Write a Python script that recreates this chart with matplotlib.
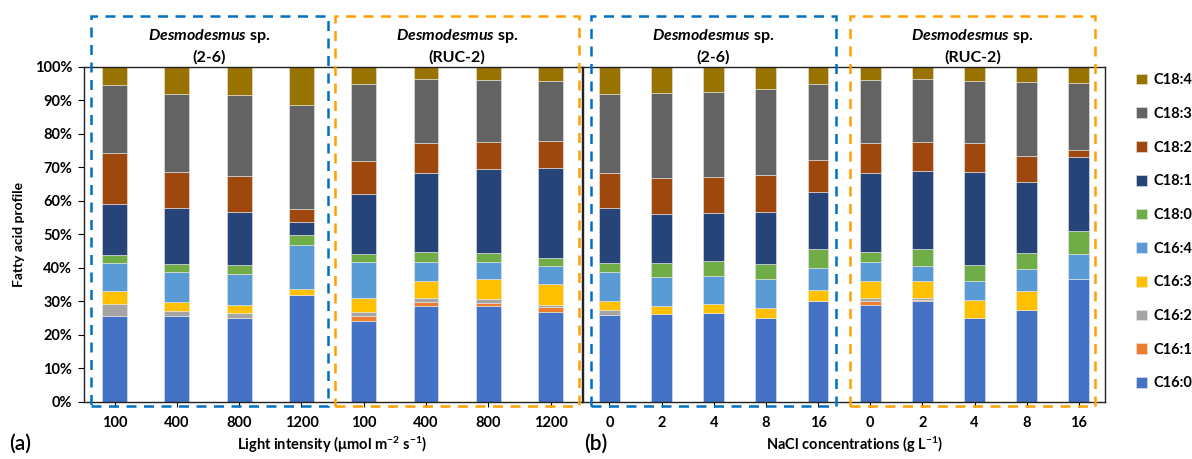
import numpy as np
import matplotlib.pyplot as plt
from matplotlib.patches import Rectangle

plt.rcParams['font.family'] = ['Lato', 'DejaVu Sans']
plt.rcParams['font.weight'] = 'bold'
plt.rcParams['mathtext.fontset'] = 'custom'
plt.rcParams['mathtext.rm'] = 'Lato:bold'
plt.rcParams['mathtext.bf'] = 'Lato:bold'
plt.rcParams['mathtext.it'] = 'Lato:bold:italic'

# categories: light intensity (a) and NaCl (b), each for strain 2-6 then RUC-2
light_labels = ['100', '400', '800', '1200', '100', '400', '800', '1200']
nacl_labels = ['0', '2', '4', '8', '16', '0', '2', '4', '8', '16']

# fatty acid % (first 8 = panel a, last 10 = panel b)
c16_0 = [25.5, 25.5, 24.9, 32.0, 24.2, 28.6, 28.5, 26.7, 25.8, 26.1, 26.4, 25.1, 30.2, 28.8, 30.0, 24.9, 27.3, 36.7]
c16_1 = [0, 0, 0, 0, 1.3, 1.2, 1.1, 1.5, 0, 0, 0, 0, 0, 1.2, 0.5, 0, 0, 0]
c16_2 = [3.8, 1.7, 1.5, 0, 1.4, 1.1, 1.0, 0.8, 1.5, 0, 0, 0, 0, 0.9, 0.4, 0, 0, 0]
c16_3 = [3.7, 2.7, 2.6, 1.6, 4.2, 5.1, 5.9, 6.1, 2.7, 2.6, 2.7, 2.8, 3.0, 5.1, 5.0, 5.6, 5.7, 0]
c16_4 = [8.5, 8.9, 9.2, 13.3, 10.7, 5.8, 5.2, 5.4, 8.8, 8.6, 8.5, 8.7, 6.8, 5.8, 4.7, 5.6, 6.7, 7.5]
c18_0 = [2.2, 2.4, 2.5, 2.8, 2.4, 3.0, 2.7, 2.5, 2.5, 4.0, 4.3, 4.4, 5.5, 3.0, 4.9, 4.7, 4.7, 6.9]
c18_1 = [15.3, 16.5, 15.8, 4.0, 17.7, 23.4, 25.0, 26.7, 16.4, 14.8, 14.5, 15.7, 17.1, 23.4, 23.3, 27.7, 21.2, 21.9]
c18_2 = [15.2, 10.8, 10.8, 3.7, 9.9, 8.9, 8.1, 8.0, 10.7, 10.7, 10.6, 10.9, 9.5, 8.9, 8.6, 8.6, 7.8, 2.1]
c18_3 = [20.4, 23.5, 24.2, 31.1, 23.0, 19.1, 18.5, 18.1, 23.5, 25.3, 25.4, 25.7, 22.7, 18.9, 18.9, 18.6, 22.0, 20.1]
c18_4 = [5.4, 8.0, 8.5, 11.5, 5.2, 3.8, 4.0, 4.2, 8.1, 7.9, 7.6, 6.7, 5.2, 4.0, 3.7, 4.3, 4.6, 4.9]

names = ['C16:0', 'C16:1', 'C16:2', 'C16:3', 'C16:4', 'C18:0', 'C18:1', 'C18:2', 'C18:3', 'C18:4']
series = [c16_0, c16_1, c16_2, c16_3, c16_4, c18_0, c18_1, c18_2, c18_3, c18_4]
colors = ['#4472C4', '#ED7D31', '#A5A5A5', '#FFC000', '#5B9BD5',
          '#70AD47', '#264478', '#9E480E', '#636363', '#997300']

W, H = 1192, 459
fig = plt.figure(figsize=(W / 100, H / 100), dpi=100)

def px(x0, y0, x1, y1):
    # pixel box -> figure fraction [left, bottom, width, height]
    return [x0 / W, 1 - y1 / H, (x1 - x0) / W, (y1 - y0) / H]

ax_a = fig.add_axes(px(83.5, 66.7, 581.7, 401.7))
ax_b = fig.add_axes(px(583.3, 66.7, 1105, 401.7))

handles = []
for ax, labels, sl in [(ax_a, light_labels, slice(0, 8)), (ax_b, nacl_labels, slice(8, 18))]:
    x = np.arange(len(labels))
    bottom = np.zeros(len(labels))
    for name, vals, col in zip(names, series, colors):
        v = np.array(vals[sl], dtype=float)
        b = ax.bar(x, v, 0.4, bottom=bottom, color=col, edgecolor='#e8e8e8',
                   linewidth=0.4, label=name)
        bottom += v
        if ax is ax_a:
            handles.append(b)
    ax.set_xlim(-0.5, len(labels) - 0.5)
    ax.set_ylim(0, 100)
    ax.set_xticks(x)
    ax.set_xticklabels(labels, fontsize=10.5, fontweight='bold')
    ax.tick_params(axis='x', length=3.5, pad=7, width=0.8)
    for s in ax.spines.values():
        s.set_linewidth(1.0)
        s.set_color('#222222')

ax_a.set_yticks(np.arange(0, 101, 10))
ax_a.set_yticklabels([f'{v}%' for v in range(0, 101, 10)], fontsize=10.5, fontweight='bold')
ax_a.tick_params(axis='y', length=4, width=0.8, pad=4)
ax_a.set_ylabel('Fatty acid profile', fontsize=10, fontweight='bold', labelpad=7)
ax_b.set_yticks([])

# dashed strain boxes
boxes = [(90.7, 327.7, '#0070C0'), (335, 579.3, '#FFA000'),
         (590.7, 835.7, '#0070C0'), (850, 1095.3, '#FFA000')]
titles = ['(2-6)', '(RUC-2)', '(2-6)', '(RUC-2)']
for (x0, x1, col), t in zip(boxes, titles):
    r = Rectangle((x0 / W, 1 - 406 / H), (x1 - x0) / W, (406 - 15.7) / H,
                  transform=fig.transFigure, fill=False, edgecolor=col,
                  linewidth=1.8, linestyle=(0, (4, 3)), zorder=5)
    fig.add_artist(r)
    cx = (x0 + x1) / 2 / W
    fig.text(cx, 1 - 36 / H, r'$\mathit{Desmodesmus}$ sp.', ha='center', va='center',
             fontsize=11.5, fontweight='bold')
    fig.text(cx, 1 - 57 / H, t, ha='center', va='center', fontsize=11.5, fontweight='bold')

fig.text(332 / W, 1 - 445 / H, r'Light intensity (μmol m$^{-2}$ s$^{-1}$)',
         ha='center', va='center', fontsize=10.5, fontweight='bold')
fig.text(855 / W, 1 - 445 / H, r'NaCl concentrations (g L$^{-1}$)',
         ha='center', va='center', fontsize=10.5, fontweight='bold')
fig.text(20 / W, 1 - 444 / H, '(a)', ha='center', va='center', fontsize=15, fontweight='semibold')
fig.text(596 / W, 1 - 444 / H, '(b)', ha='center', va='center', fontsize=15, fontweight='semibold')

fig.legend(handles[::-1], names[::-1], loc='upper left', bbox_to_anchor=(1126 / W, 1 - 63 / H),
           frameon=False, prop={'weight': 'bold', 'size': 10.5},
           handlelength=0.75, handleheight=0.75, handletextpad=0.45, labelspacing=1.35,
           borderpad=0.2)

fig.savefig('out.png', dpi=100)
